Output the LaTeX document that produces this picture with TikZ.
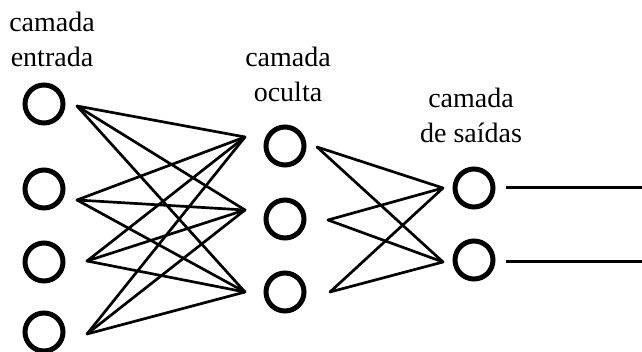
\documentclass[tikz,border=0pt]{standalone}
\usepackage{fontspec}
\setmainfont{Liberation Serif}
\begin{document}
\begin{tikzpicture}[x=1pt,y=-1pt,
  neuron/.style={circle,draw=black,line width=5pt,minimum size=38pt,inner sep=0pt},
  synapse/.style={draw=black,line width=2.7pt,line cap=round,line join=round},
  outline/.style={draw=black,line width=3pt},
  layerlabel/.style={font=\fontsize{28}{35}\selectfont,align=center,anchor=base,inner sep=0pt}]
  % canvas
  \fill[white] (0,0) rectangle (642,352);
  \useasboundingbox (0,0) rectangle (642,352);

  % layer titles (anchored at the baseline of the second line)
  \node[layerlabel] (tin)  at (52,67)  {camada\\entrada};
  \node[layerlabel] (thid) at (288,102) {camada\\oculta};
  \node[layerlabel] (tout) at (471,143) {camada\\de saídas};

  % input layer
  \node[neuron] (i1) at (44,104) {};
  \node[neuron] (i2) at (44,189) {};
  \node[neuron] (i3) at (44,262) {};
  \node[neuron] (i4) at (44,332) {};
  % hidden layer
  \node[neuron] (h1) at (285,146) {};
  \node[neuron] (h2) at (285,219) {};
  \node[neuron] (h3) at (285,292) {};
  % output layer
  \node[neuron] (o1) at (474,188) {};
  \node[neuron] (o2) at (474,260) {};

  % connection points beside each neuron
  \coordinate (i1p) at (77,106);
  \coordinate (i2p) at (77,200);
  \coordinate (i3p) at (87,261);
  \coordinate (i4p) at (87,334);
  \coordinate (h1a) at (245,137);
  \coordinate (h2a) at (245,210);
  \coordinate (h3a) at (245,292);
  \coordinate (h1b) at (317,147);
  \coordinate (h2b) at (328,220);
  \coordinate (h3b) at (330,292);
  \coordinate (o1a) at (443,188);
  \coordinate (o2a) at (443,262);
  \coordinate (o1b) at (506,188);
  \coordinate (o2b) at (506,262);
  \coordinate (o1e) at (642,188);
  \coordinate (o2e) at (642,262);

  % input -> hidden
  \foreach \i in {1,2,3,4}{
    \foreach \h in {1,2,3}{
      \draw[synapse] (i\i p) -- (h\h a);
    }
  }
  % hidden -> output
  \foreach \h in {1,2,3}{
    \foreach \o in {1,2}{
      \draw[synapse] (h\h b) -- (o\o a);
    }
  }
  % output lines
  \draw[outline] (o1b) -- (o1e);
  \draw[outline] (o2b) -- (o2e);
\end{tikzpicture}
\end{document}
